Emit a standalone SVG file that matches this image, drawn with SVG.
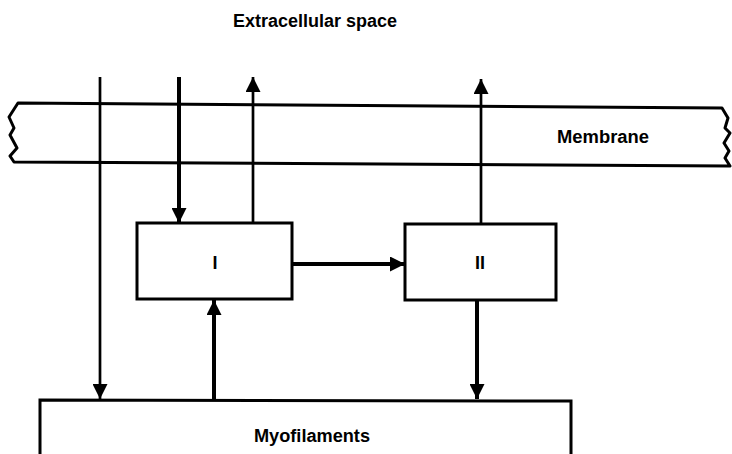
<svg xmlns="http://www.w3.org/2000/svg" width="732" height="454" viewBox="0 0 732 454">
<style>
.t{font-family:"Liberation Sans",Arial,sans-serif;font-weight:bold;font-size:18px;fill:#000}
.box{fill:#fff;stroke:#000;stroke-width:3}
.thin{stroke:#000;stroke-width:2.7;fill:none}
.thick{stroke:#000;stroke-width:4;fill:none}
.mem{stroke:#000;stroke-width:3;fill:none;stroke-linejoin:round}
</style>
<defs>
<marker id="ah" viewBox="0 0 10 10" refX="10" refY="5" markerUnits="userSpaceOnUse" markerWidth="15" markerHeight="15" orient="auto">
<path d="M0,0 L10,5 L0,10 Z" fill="#000"/>
</marker>
</defs>
<rect width="732" height="454" fill="#fff"/>
<text class="t" x="315" y="27" text-anchor="middle" textLength="164" lengthAdjust="spacingAndGlyphs">Extracellular space</text>
<g id="membrane">
<path class="mem" d="M18,103 L722,108 L728,118 L725,128 L730,133 L724,143 L729,151 L725,158 L730,166 L14,162 L10,156 L17,148 L10,135 L14,128 L9,117 Z"/>
<text class="t" x="603" y="143" text-anchor="middle" textLength="92" lengthAdjust="spacingAndGlyphs">Membrane</text>
</g>
<g id="connectors">
<line class="thin" x1="100" y1="77" x2="100" y2="399" marker-end="url(#ah)"/>
<line class="thick" x1="179" y1="77" x2="179" y2="223" marker-end="url(#ah)"/>
<line class="thin" x1="253" y1="223" x2="253" y2="77" marker-end="url(#ah)"/>
<line class="thin" x1="481" y1="223" x2="481" y2="79" marker-end="url(#ah)"/>
<line class="thick" x1="292" y1="264" x2="405" y2="264" marker-end="url(#ah)"/>
<line class="thick" x1="214" y1="399" x2="214" y2="300" marker-end="url(#ah)"/>
<line class="thick" x1="477" y1="300" x2="477" y2="399" marker-end="url(#ah)"/>
</g>
<g id="nodeI">
<rect class="box" x="137" y="223" width="155" height="76"/>
<text class="t" x="215" y="269" text-anchor="middle">I</text>
</g>
<g id="nodeII">
<rect class="box" x="405" y="224" width="151" height="76"/>
<text class="t" x="480" y="269" text-anchor="middle">II</text>
</g>
<g id="myofilaments">
<path class="box" d="M40,458 L40,400 L571,401 L571,458"/>
<text class="t" x="312" y="442" text-anchor="middle" textLength="116" lengthAdjust="spacingAndGlyphs">Myofilaments</text>
</g>
</svg>
